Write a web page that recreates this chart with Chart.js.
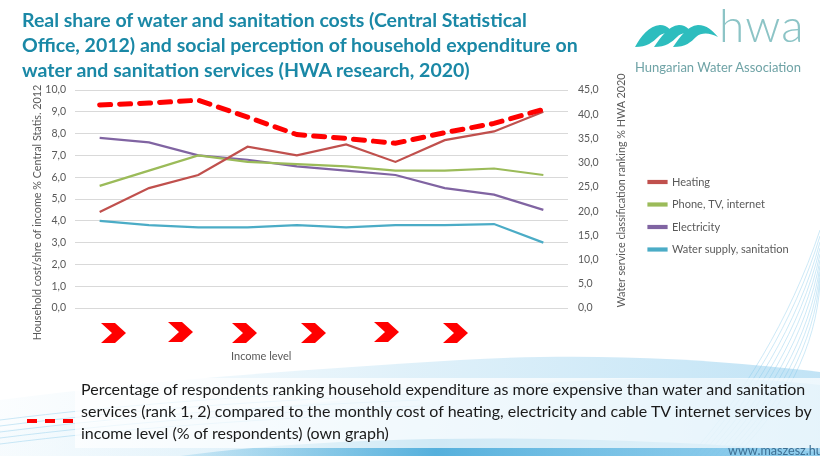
<!DOCTYPE html>
<html>
<head>
<meta charset="utf-8">
<script src="https://cdn.jsdelivr.net/npm/chart.js@4.4.1/dist/chart.umd.min.js"></script>
<style>
  html, body { margin: 0; padding: 0; background: #ffffff; }
  #stage { position: relative; width: 820px; height: 456px; overflow: hidden; background: #ffffff; font-family: Lato, "Open Sans", sans-serif; }
  #bg { position: absolute; left: 0; top: 0; }
  #chartBox { position: absolute; left: 0; top: 0; width: 820px; height: 456px; z-index: 2; }
  #title { position: absolute; left: 22px; top: 7px; font-weight: 700; font-size: 19.5px; line-height: 25px; color: #1A88A6; white-space: nowrap; z-index: 3; }
  .axisTitle { position: absolute; font-size: 10.8px; color: #595959; white-space: nowrap; transform-origin: center center; z-index: 3; }
  #incomeLbl { position: absolute; left: 231px; top: 349px; font-size: 11px; color: #595959; z-index: 3; }
  #footBox { position: absolute; left: 75px; top: 378px; width: 745px; height: 70px; background: rgba(255,255,255,0.72); z-index: 2; }
  #footText { position: absolute; left: 81px; top: 378px; font-size: 16px; line-height: 21.8px; color: #1a1a1a; white-space: nowrap; z-index: 3; }
  #www { position: absolute; left: 728px; top: 443px; font-size: 12.6px; color: #3D6F93; z-index: 3; }
  #hwa { position: absolute; left: 719px; top: -3px; font-size: 46px; font-weight: 300; color: #8CC4C6; letter-spacing: 1px; z-index: 3; }
  #hwaSub { position: absolute; left: 635px; top: 59px; font-size: 13px; color: #6FA3A6; white-space: nowrap; z-index: 3; }
</style>
</head>
<body>
<div id="stage">
  <svg id="bg" width="820" height="456" viewBox="0 0 820 456">
    <defs>
      <linearGradient id="g1" x1="0" y1="0" x2="1" y2="0">
        <stop offset="0" stop-color="#d8eef9" stop-opacity="0.2"/>
        <stop offset="0.5" stop-color="#bfe2f4" stop-opacity="0.9"/>
        <stop offset="1" stop-color="#8fcdee" stop-opacity="1"/>
      </linearGradient>
      <linearGradient id="g2" x1="0" y1="0" x2="1" y2="0">
        <stop offset="0" stop-color="#4fb0dc" stop-opacity="0.2"/>
        <stop offset="0.4" stop-color="#3aa3d6" stop-opacity="0.9"/>
        <stop offset="1" stop-color="#77c3e8" stop-opacity="0.5"/>
      </linearGradient>
    </defs>
    <path d="M0 400 C 150 380, 300 370, 460 360 C 600 352, 720 360, 820 372 L 820 456 L 0 456 Z" fill="url(#g1)" opacity="0.55"/>
    <path d="M0 430 C 200 415, 380 395, 560 382 C 680 375, 760 378, 820 385 L 820 456 L 0 456 Z" fill="url(#g1)" opacity="0.6"/>
    <path d="M180 456 C 300 440, 450 436, 600 440 C 700 443, 770 448, 820 452 L 820 456 Z" fill="url(#g2)" opacity="0.9"/>
    <g stroke="#7cc5ea" stroke-width="0.7" fill="none" opacity="0.55">
      <path d="M690 456 C 740 400, 790 320, 820 230"/>
      <path d="M695 456 C 745 400, 794 322, 820 236"/>
      <path d="M700 456 C 750 401, 798 325, 820 242"/>
      <path d="M705 456 C 755 402, 801 328, 820 248"/>
      <path d="M710 456 C 760 403, 804 331, 820 254"/>
      <path d="M715 456 C 765 404, 807 334, 820 260"/>
      <path d="M720 456 C 770 405, 810 337, 820 266"/>
      <path d="M725 456 C 775 406, 812 340, 820 272"/>
      <path d="M730 456 C 780 407, 814 343, 820 278"/>
      <path d="M735 456 C 785 408, 816 346, 820 284"/>
      <path d="M0 420 C 120 405, 250 395, 420 388"/>
      <path d="M0 426 C 120 411, 250 401, 420 394"/>
      <path d="M0 432 C 120 417, 250 407, 420 400"/>
      <path d="M0 438 C 120 423, 250 413, 420 406"/>
      <path d="M0 444 C 120 429, 250 419, 420 412"/>
    </g>
    <!-- HWA logo waves -->
    <g fill="#2DBDBE">
      <path d="M635 47 C 641 36, 649 26, 660 25 C 668 25, 672 31, 675 37 C 669 32, 663 32, 658 37 C 653 42, 647 47, 635 47 Z"/>
      <path d="M654 47 C 661 37, 668 26, 679 25 C 687 25, 691 31, 694 37 C 688 32, 682 32, 677 37 C 672 42, 666 47, 654 47 Z"/>
      <path d="M673 47 C 680 37, 687 26, 698 25 C 707 25, 712 30, 718 37 C 710 33, 702 32, 696 37 C 691 42, 686 47, 673 47 Z"/>
    </g>
    <!-- chevrons -->
    <g fill="#FF0000">
      <polygon points="101,323 115,323 126,333 115,343 101,343 112,333"/>
      <polygon points="168,322 182,322 193,332 182,342 168,342 179,332"/>
      <polygon points="232,323 246,323 257,333 246,343 232,343 243,333"/>
      <polygon points="301,323 315,323 326,333 315,343 301,343 312,333"/>
      <polygon points="374,322 388,322 399,332 388,342 374,342 385,332"/>
      <polygon points="443,323 457,323 468,333 457,343 443,343 454,333"/>
    </g>
  </svg>
  <div id="footBox"></div>
  <svg style="position:absolute;left:0;top:0;z-index:3" width="820" height="456">
    <line x1="27" y1="421" x2="76" y2="421" stroke="#FF0000" stroke-width="4" stroke-dasharray="10 8"/>
  </svg>
  <div id="chartBox"><canvas id="chart" width="820" height="456"></canvas></div>
  <div id="title">Real share of water and sanitation costs (Central Statistical<br>Office, 2012) and social perception of household expenditure on<br>water and sanitation services (HWA research, 2020)</div>
  <div class="axisTitle" id="leftTitle">Household cost/shre of income % Central Statis. 2012</div>
  <div class="axisTitle" id="rightTitle">Water service classification ranking % HWA 2020</div>
  <div id="incomeLbl">Income level</div>
  <div id="footText">Percentage of respondents ranking household expenditure as more expensive than water and sanitation<br>services (rank 1, 2) compared to the monthly cost of heating, electricity and cable TV internet services by<br>income level (% of respondents) (own graph)</div>
  <div id="www">www.maszesz.hu</div>
  <div id="hwa">hwa</div>
  <div id="hwaSub">Hungarian Water Association</div>
</div>
<script>
// ---- data ----
const incomeGroups = ['1', '2', '3', '4', '5', '6', '7', '8', '9', '10'];
const heating      = [4.4, 5.5, 6.1, 7.4, 7.0, 7.5, 6.7, 7.7, 8.1, 9.0];
const phoneTvNet   = [5.6, 6.3, 7.0, 6.7, 6.6, 6.5, 6.3, 6.3, 6.4, 6.1];
const electricity  = [7.8, 7.6, 7.0, 6.8, 6.5, 6.3, 6.1, 5.5, 5.2, 4.5];
const waterSupply  = [4.0, 3.8, 3.7, 3.7, 3.8, 3.7, 3.8, 3.8, 3.85, 3.0];
const rankingHWA   = [41.9, 42.3, 42.9, 39.4, 35.8, 35.0, 34.0, 36.2, 38.1, 41.0];
const leftAxisMax = 10, leftAxisStep = 1;
const rightAxisMax = 45, rightAxisStep = 5;
const seriesNames = ['Heating', 'Phone, TV, internet', 'Electricity', 'Water supply, sanitation'];

function placeRotated(id, cx, cy) {
  const el = document.getElementById(id);
  const w = el.offsetWidth, h = el.offsetHeight;
  el.style.left = (cx - w / 2) + 'px';
  el.style.top = (cy - h / 2) + 'px';
  el.style.transform = 'rotate(-90deg)';
}
placeRotated('leftTitle', 37, 212);
placeRotated('rightTitle', 621, 190);

const fmt = v => Number(v).toFixed(1).replace('.', ',');
Chart.defaults.font.family = 'Lato, "Open Sans", sans-serif';
Chart.defaults.color = '#595959';

const line = (label, data, color) => ({
  label, data, borderColor: color, backgroundColor: color, borderWidth: 2.2,
  pointRadius: 0, tension: 0, yAxisID: 'y', fill: false
});

new Chart(document.getElementById('chart'), {
  type: 'line',
  data: {
    labels: incomeGroups,
    datasets: [
      {
        label: 'ranking', data: rankingHWA, yAxisID: 'y1', borderColor: '#FF0000', backgroundColor: '#FF0000',
        borderWidth: 5, borderDash: [11, 9], borderCapStyle: 'round', pointRadius: 0, tension: 0, fill: false
      },
      line(seriesNames[0], heating, '#C0504D'),
      line(seriesNames[1], phoneTvNet, '#9BBB59'),
      line(seriesNames[2], electricity, '#8064A2'),
      line(seriesNames[3], waterSupply, '#4BACC6')
    ]
  },
  options: {
    responsive: false,
    animation: false,
    devicePixelRatio: 1,
    layout: { padding: { left: 26, top: 90, right: 22, bottom: 148 } },
    plugins: {
      tooltip: { enabled: false },
      legend: {
        position: 'right',
        align: 'start',
        maxWidth: 161,
        title: { display: true, text: '', font: { size: 1, lineHeight: 1 }, padding: { top: 74, bottom: 0 } },
        labels: {
          filter: item => item.datasetIndex !== 0,
          boxWidth: 18, boxHeight: 2, padding: 11.5,
          color: '#595959', font: { size: 11 }
        }
      }
    },
    scales: {
      x: { type: 'category', offset: true, display: false, grid: { display: false } },
      y: {
        position: 'left', min: 0, max: leftAxisMax,
        border: { display: false },
        grid: { color: '#D9D9D9', drawTicks: false, lineWidth: 1 },
        ticks: { stepSize: leftAxisStep, padding: 9, callback: fmt, font: { size: 10.5 }, color: '#595959' },
        afterFit: s => { s.width = 49; }
      },
      y1: {
        position: 'right', min: 0, max: rightAxisMax,
        border: { display: false },
        grid: { drawOnChartArea: false, drawTicks: false },
        ticks: { stepSize: rightAxisStep, padding: 10, callback: fmt, font: { size: 10.5 }, color: '#595959' },
        afterFit: s => { s.width = 69; }
      }
    }
  }
});
</script>
</body>
</html>
